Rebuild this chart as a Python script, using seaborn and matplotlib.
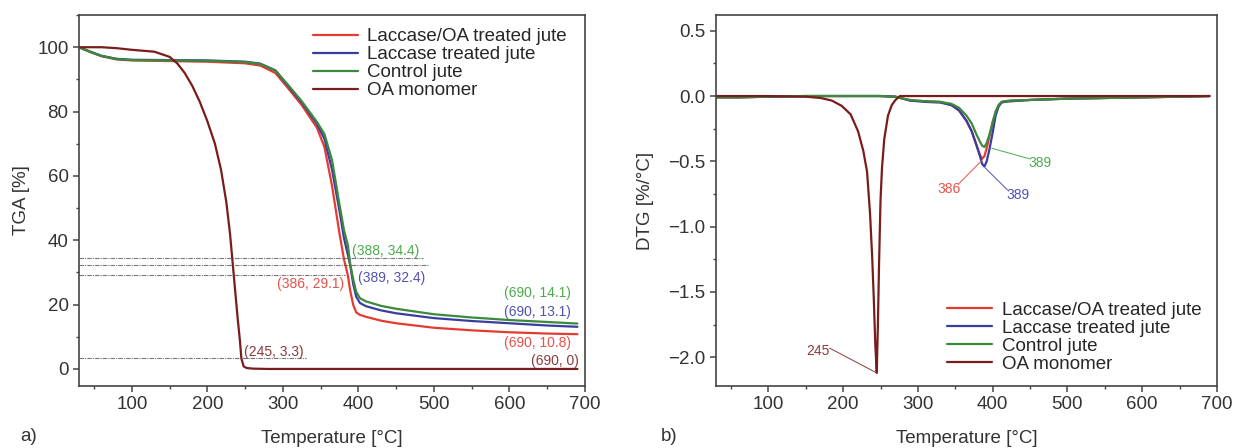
import matplotlib.pyplot as plt
import seaborn as sns
import numpy as np
import pandas as pd

# Series labels and colours
labels = ["Laccase/OA treated jute", "Laccase treated jute", "Control jute", "OA monomer"]
colors = ["#e53a32", "#3a3ca0", "#3b8a3b", "#7a1c1c"]
text_colors = ["#e8514a", "#5052b4", "#4caa4c", "#8c3a3a"]

# TGA (a)
tga_x = [30, 45, 60, 80, 100, 150, 200, 250, 270, 290, 305, 325, 345, 355, 365, 375,
         381, 386, 389, 393, 397, 402, 410, 430, 450, 500, 550, 600, 650, 690]
tga_lac_oa = [100, 98.5, 97.2, 96.2, 95.9, 95.7, 95.5, 95.0, 94.3, 92.0, 87.8, 82.0, 75.0, 69.0,
              57.0, 42.0, 34.0, 29.1, 24.5, 20.0, 17.6, 16.8, 16.2, 15.0, 14.2, 12.8, 12.0, 11.4, 11.0, 10.8]
tga_lac = [100, 98.6, 97.3, 96.4, 96.1, 96.0, 95.9, 95.5, 94.9, 92.8, 88.5, 82.8, 76.2, 71.5,
           62.0, 49.0, 40.5, 35.5, 32.4, 26.5, 22.5, 20.5, 19.5, 18.2, 17.3, 15.8, 14.9, 14.2, 13.5, 13.1]
tga_ctrl = [100, 98.6, 97.3, 96.3, 96.0, 95.9, 95.8, 95.4, 94.8, 92.8, 88.8, 83.2, 76.8, 73.0,
            65.0, 51.0, 43.0, 38.5, 32.8, 28.0, 24.0, 22.0, 21.0, 19.6, 18.7, 17.0, 16.0, 15.2, 14.6, 14.1]
tga_oa_x = [30, 60, 80, 100, 130, 150, 160, 170, 180, 190, 200, 210, 218, 225, 230, 235,
            240, 243, 245, 248, 252, 260, 280, 400, 500, 600, 690]
tga_oa = [100, 100, 99.7, 99.2, 98.6, 97.0, 95.0, 92.0, 88.0, 83.0, 77.0, 70.0, 62.0, 52.0, 42.0, 29.0,
          16.0, 9.0, 3.3, 0.8, 0.3, 0.1, 0, 0, 0, 0, 0]

# DTG (b)
dtg_x = [30, 60, 100, 150, 200, 250, 270, 280, 290, 310, 330, 345, 355, 365, 372, 378, 383, 386,
         389, 392, 396, 400, 404, 408, 412, 416, 425, 450, 500, 550, 600, 650, 690]
dtg_lac_oa = [-0.01, -0.01, -0.005, 0, 0, 0, -0.005, -0.02, -0.035, -0.04, -0.045, -0.07, -0.11,
              -0.19, -0.27, -0.37, -0.45, -0.48, -0.46, -0.40, -0.30, -0.20, -0.12, -0.07, -0.045,
              -0.04, -0.035, -0.03, -0.02, -0.015, -0.01, -0.005, 0]
dtg_lac = [-0.01, -0.01, -0.005, 0, 0, 0, -0.005, -0.02, -0.035, -0.045, -0.05, -0.07, -0.11,
           -0.19, -0.27, -0.37, -0.46, -0.52, -0.54, -0.50, -0.40, -0.28, -0.15, -0.08, -0.05,
           -0.045, -0.04, -0.03, -0.02, -0.015, -0.01, -0.005, 0]
dtg_ctrl = [-0.01, -0.01, -0.005, 0, 0, 0, -0.005, -0.02, -0.03, -0.04, -0.045, -0.06, -0.09,
            -0.15, -0.21, -0.29, -0.35, -0.38, -0.39, -0.36, -0.29, -0.20, -0.12, -0.07, -0.045,
            -0.04, -0.035, -0.03, -0.02, -0.015, -0.01, -0.005, 0]
dtg_oa_x = [30, 100, 150, 170, 185, 198, 210, 220, 227, 232, 236, 239, 241, 243, 245, 246.5, 248,
            250, 252, 255, 260, 265, 270, 276, 300, 400, 500, 600, 690]
dtg_oa = [0, 0, -0.005, -0.015, -0.035, -0.075, -0.14, -0.27, -0.42, -0.58, -0.9, -1.25, -1.55,
          -1.9, -2.12, -1.75, -1.3, -0.8, -0.55, -0.33, -0.15, -0.07, -0.03, 0, 0, 0, 0, 0, 0]

sns.set_style("ticks")
plt.rcParams["font.family"] = ["Liberation Sans", "DejaVu Sans"]
plt.rcParams["axes.unicode_minus"] = True

fs = 13.5
fig = plt.figure(figsize=(12.36, 4.48), dpi=100)
ax1 = fig.add_axes([0.0639, 0.1384, 0.4094, 0.828])
ax2 = fig.add_axes([0.5793, 0.1384, 0.4053, 0.828])

tga_series = [(tga_x, tga_lac_oa), (tga_x, tga_lac), (tga_x, tga_ctrl), (tga_oa_x, tga_oa)]
dtg_series = [(dtg_x, dtg_lac_oa), (dtg_x, dtg_lac), (dtg_x, dtg_ctrl), (dtg_oa_x, dtg_oa)]

for ax, series in [(ax1, tga_series), (ax2, dtg_series)]:
    for (xs, ys), lab, c in zip(series, labels, colors):
        df = pd.DataFrame({"T": xs, "v": ys})
        sns.lineplot(data=df, x="T", y="v", ax=ax, color=c, lw=1.6, label=lab,
                     sort=False, estimator=None)

# reference lines in TGA
ref_lines = [(34.4, 485), (32.4, 492), (29.1, 382), (3.3, 330)]
for yv, xend in ref_lines:
    ax1.plot([30, xend], [yv, yv], color="#555555", lw=0.8, ls=(0, (4, 1, 1, 1)), alpha=0.8)

# TGA annotations
ax1.text(391, 36.8, "(388, 34.4)", color=text_colors[2], fontsize=10, va="center", ha="left")
ax1.text(381, 26.4, "(386, 29.1)", color=text_colors[0], fontsize=10, va="center", ha="right")
ax1.text(400, 28.2, "(389, 32.4)", color=text_colors[1], fontsize=10, va="center", ha="left")
ax1.text(681, 23.6, "(690, 14.1)", color=text_colors[2], fontsize=10, va="center", ha="right")
ax1.text(681, 17.6, "(690, 13.1)", color=text_colors[1], fontsize=10, va="center", ha="right")
ax1.text(681, 8.1, "(690, 10.8)", color=text_colors[0], fontsize=10, va="center", ha="right")
ax1.text(692, 2.4, "(690, 0)", color=text_colors[3], fontsize=10, va="center", ha="right")
ax1.text(249, 5.2, "(245, 3.3)", color=text_colors[3], fontsize=10, va="center", ha="left")

# DTG annotations with leader lines
dtg_notes = [("245", 166, -1.95, 182, -1.93, 245, -2.12, text_colors[3]),
             ("386", 342, -0.71, 355, -0.67, 386, -0.49, text_colors[0]),
             ("389", 434, -0.756, 420, -0.72, 390, -0.55, text_colors[1]),
             ("389", 463, -0.51, 449, -0.48, 399, -0.40, text_colors[2])]
for txt, tx, ty, x0, y0, x1, y1, c in dtg_notes:
    ax2.text(tx, ty, txt, color=c, fontsize=10, ha="center", va="center")
    ax2.plot([x0, x1], [y0, y1], color=c, lw=0.7)

ax1.set_xlim(30, 700)
ax1.set_ylim(-5.3, 110)
ax1.set_xticks(np.arange(100, 701, 100))
ax1.set_xticks(np.arange(50, 701, 50), minor=True)
ax1.set_yticks(np.arange(0, 101, 20))
ax1.set_yticks(np.arange(0, 111, 10), minor=True)
ax1.set_ylabel("TGA [%]", fontsize=fs, labelpad=5)
ax1.set_xlabel("Temperature [°C]", fontsize=fs, labelpad=12)

ax2.set_xlim(30, 700)
ax2.set_ylim(-2.22, 0.62)
ax2.set_xticks(np.arange(100, 701, 100))
ax2.set_xticks(np.arange(50, 701, 50), minor=True)
ax2.set_yticks(np.arange(-2.0, 0.51, 0.5))
ax2.set_yticks(np.arange(-2.0, 0.51, 0.25), minor=True)
ax2.set_yticklabels(["\u22122.0", "\u22121.5", "\u22121.0", "\u22120.5", "0.0", "0.5"])
ax2.set_ylabel("DTG [%/°C]", fontsize=fs, labelpad=10)
ax2.set_xlabel("Temperature [°C]", fontsize=fs, labelpad=12)

for ax in (ax1, ax2):
    for sp in ax.spines.values():
        sp.set_visible(True)
        sp.set_color("#444444")
        sp.set_linewidth(1.2)
    ax.tick_params(which="major", direction="out", length=4.5, width=1.1, labelsize=fs,
                   color="#444444", labelcolor="#333333", pad=3)
    ax.tick_params(which="minor", direction="out", length=2.5, width=1, color="#444444")
    ax.xaxis.label.set_color("#333333")
    ax.yaxis.label.set_color("#333333")

ax1.legend(loc="upper right", frameon=False, fontsize=fs, handlelength=2.4, handletextpad=0.5,
           labelspacing=0.05, borderaxespad=0.3, bbox_to_anchor=(0.99, 1.0))
ax2.legend(loc="lower right", frameon=False, fontsize=fs, handlelength=2.4, handletextpad=0.5,
           labelspacing=0.05, borderaxespad=0.3, bbox_to_anchor=(0.995, 0.0))

fig.text(0.016, 0.025, "a)", fontsize=fs, color="#333333", va="center")
fig.text(0.535, 0.025, "b)", fontsize=fs, color="#333333", va="center")

fig.savefig("out.png", dpi=100)
